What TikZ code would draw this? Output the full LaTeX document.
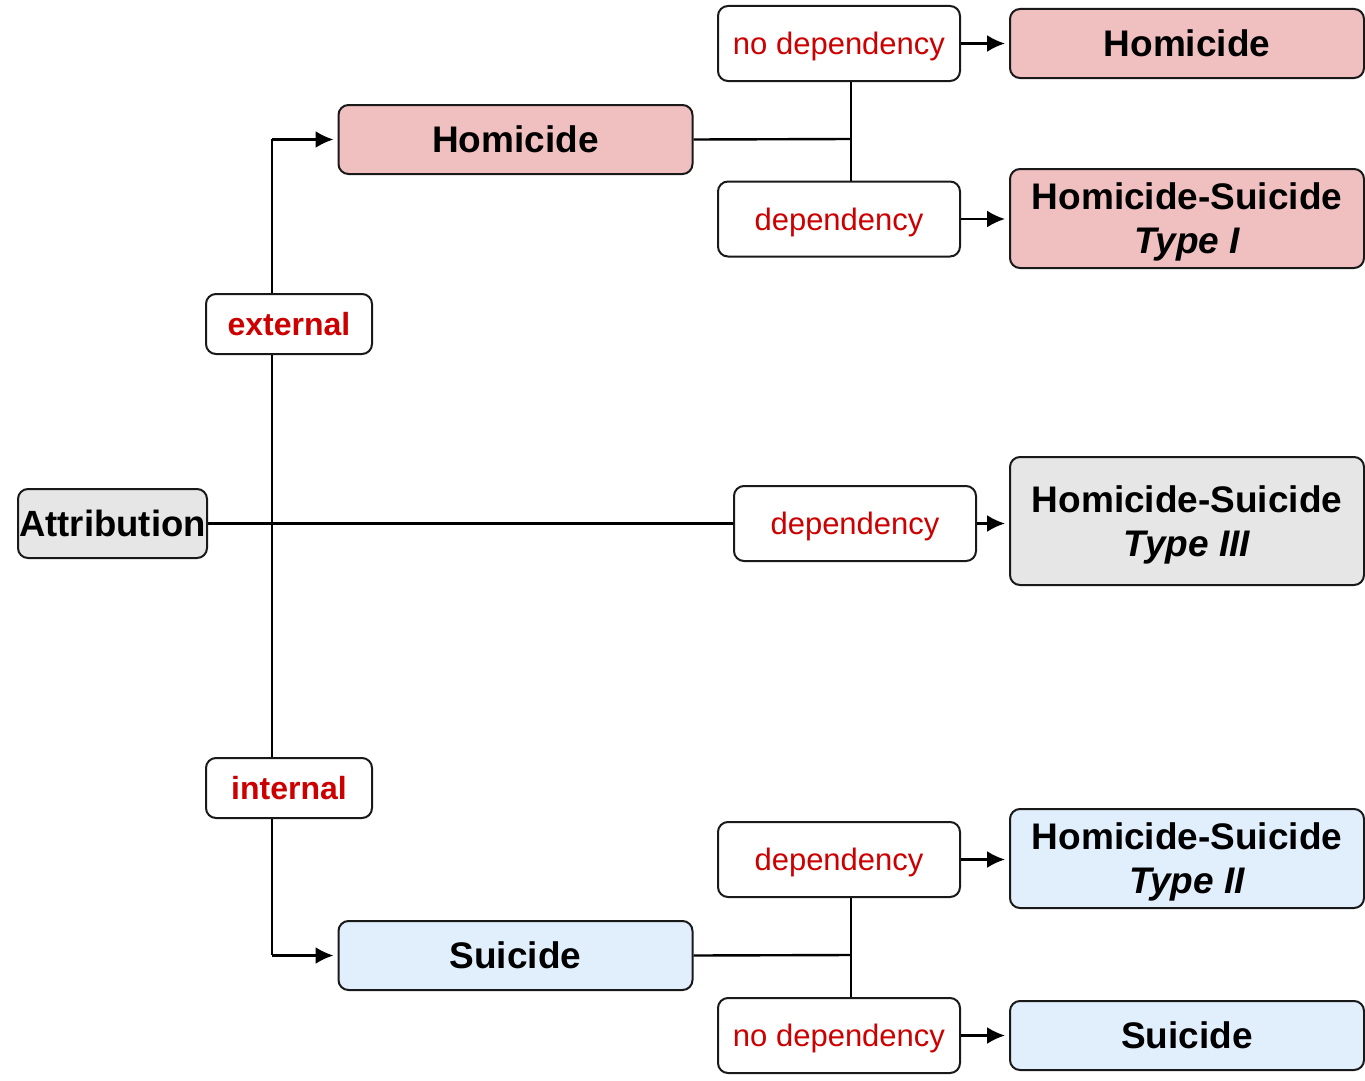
\documentclass[tikz,border=0pt]{standalone}
\usepackage{fontspec}
\setmainfont{Liberation Sans}
\usetikzlibrary{positioning}
\usetikzlibrary{arrows.meta}
\definecolor{homicidered}{RGB}{240,191,191}
\definecolor{suicideblue}{RGB}{225,239,253}
\definecolor{rootgray}{RGB}{230,230,230}
\definecolor{labelred}{RGB}{204,0,0}
\tikzset{
        treebox/.style={align=center, inner sep=0pt, text depth=0pt, rounded corners=10pt, draw=black!90, line width=2pt},
        % Root node
        node_root/.style={treebox, fill=rootgray, minimum width=189pt, minimum height=69pt, font=\fontsize{36.5}{44}\selectfont\bfseries},
        % Branch labels (external / internal)
        node_branch/.style={treebox, fill=white, text=labelred, minimum width=166pt, minimum height=60pt, font=\fontsize{32}{38}\selectfont\bfseries},
        % Condition labels (dependency / no dependency)
        node_cond/.style={treebox, fill=white, text=labelred, minimum width=242pt, minimum height=75pt, font=\fontsize{31}{36}\selectfont},
        % Outcome nodes
        node_out/.style={treebox, minimum width=354pt, minimum height=69pt, font=\fontsize{37}{44}\selectfont\bfseries},
        node_hom/.style={node_out, fill=homicidered},
        node_sui/.style={node_out, fill=suicideblue},
        % Connectors
        link/.style={line width=2.4pt},
        arrow/.style={link, -{Latex[length=18pt,width=17pt]}, shorten >=4pt}
}
\begin{document}
\begin{tikzpicture}[x=1pt, y=-1pt]
    \useasboundingbox (0,0) rectangle (1365,1081);
    \coordinate (trunk) at (272,523);
    \coordinate (join_h) at (851,139);
    \coordinate (join_s) at (851,955);

    \draw[link] (trunk |- 0,139) -- (trunk |- 0,955);

    \node[node_root] (attr) at (112.5,523.5) {Attribution};
    \node[node_branch] (ext) at (289,324) {external};
    \node[node_branch] (int) at (289,788) {internal};

    \node[node_hom] (hom) at (515.5,139.5) {Homicide};
    \node[node_sui] (sui) at (515.5,955.5) {Suicide};

    \node[node_cond] (nodep_h) at (839,43.5) {no dependency};
    \node[node_cond] (dep_h) at (839,219) {dependency};
    \node[node_cond] (dep_m) at (855,523.5) {dependency};
    \node[node_cond] (dep_s) at (839,859.5) {dependency};
    \node[node_cond] (nodep_s) at (839,1035.5) {no dependency};

    \node[node_hom] (res_hom) at (1187,43.5) {Homicide};
    \node[node_hom, minimum height=99pt] (res_t1) at (1187,218.5) {Homicide-Suicide\\\itshape Type I};
    \node[node_out, fill=rootgray, minimum height=128pt] (res_t3) at (1187,521) {Homicide-Suicide\\\itshape Type III};
    \node[node_sui, minimum height=99pt] (res_t2) at (1187,858.5) {Homicide-Suicide\\\itshape Type II};
    \node[node_sui] (res_sui) at (1187,1035.5) {Suicide};

    \draw[arrow] (trunk |- hom.west) -- (hom.west);
    \draw[arrow] (trunk |- sui.west) -- (sui.west);
    \draw[link] (attr.east) -- (dep_m.west);

    \draw[link] (hom.east) -- (join_h);
    \draw[link] (nodep_h.south -| join_h) -- (dep_h.north -| join_h);
    \draw[link] (sui.east) -- (join_s);
    \draw[link] (dep_s.south -| join_s) -- (nodep_s.north -| join_s);

    \draw[arrow] (nodep_h.east) -- (res_hom.west);
    \draw[arrow] (dep_h.east) -- (dep_h.east -| res_t1.west);
    \draw[arrow] (dep_m.east) -- (dep_m.east -| res_t3.west);
    \draw[arrow] (dep_s.east) -- (dep_s.east -| res_t2.west);
    \draw[arrow] (nodep_s.east) -- (res_sui.west);
\end{tikzpicture}
\end{document}
